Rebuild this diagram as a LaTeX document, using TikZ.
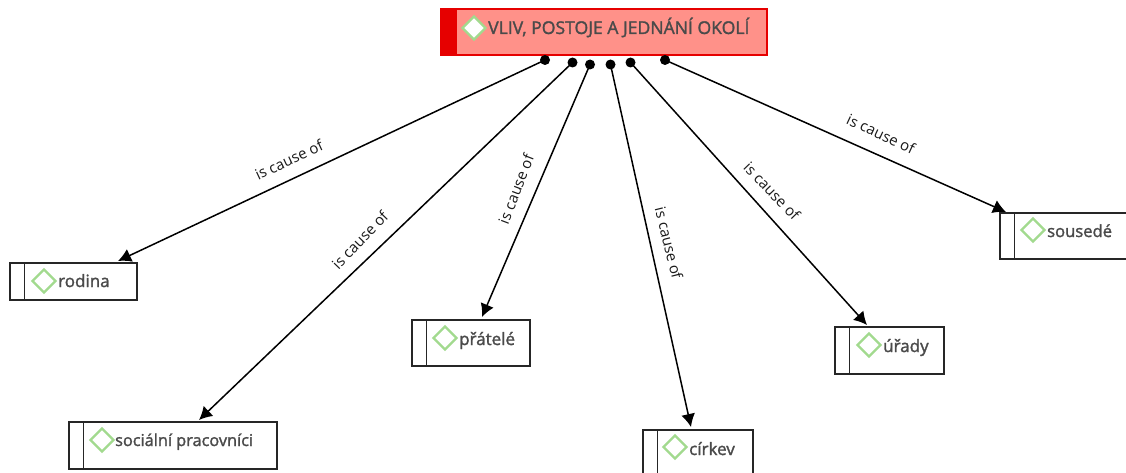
\documentclass[tikz,border=0pt]{standalone}
\usepackage{fontspec}
\setmainfont{Open Sans}
\newfontfamily\semi[FakeBold=1.6]{Open Sans}
\usetikzlibrary{shapes.geometric,arrows.meta}
\definecolor{txt}{HTML}{4A4A4A}
\definecolor{grn}{HTML}{A2DA8E}
\definecolor{headred}{HTML}{E60000}
\definecolor{headfill}{HTML}{FF9189}
\tikzset{
  box/.style={draw=black!85,line width=2pt,fill=white,rectangle,inner sep=0,outer sep=0},
  head/.style={draw=headred,line width=2pt,fill=headfill,rectangle,inner sep=0,outer sep=0},
  gem/.style={diamond,draw=grn,line width=2.3pt,fill=white,inner sep=0,minimum size=24pt},
  lab/.style={font=\semi\fontsize{17}{17}\selectfont,text=txt,anchor=base west,inner sep=0},
  dot/.style={circle,fill=black,inner sep=0,minimum size=10pt},
  link/.style={draw=black,line width=1.5pt,-{Latex[length=13pt,width=14pt]}},
  rel/.style={font=\fontsize{15}{15}\selectfont,text=black!90,inner sep=1pt}
}
\begin{document}
\begin{tikzpicture}[x=1pt,y=-1pt]
\useasboundingbox (0,0) rectangle (1126,473);
\clip (0,0) rectangle (1126,473);
% header
\node[head,minimum width=326pt,minimum height=46pt] (top) at (603.5,32.5) {};
\fill[headred] (top.north west) rectangle ([xshift=16pt]top.south west);
\node[gem] (gtop) at (474,28) {};
\node[lab,font=\semi\fontsize{17.6}{17}\selectfont] (ttop) at (488,34) {VLIV, POSTOJE A JEDNÁNÍ OKOLÍ};
% boxes
\node[box,minimum width=127pt,minimum height=37pt] (rodina) at (73.5,281.5) {};
\node[box,minimum width=208pt,minimum height=47pt] (soc) at (173,445.5) {};
\node[box,minimum width=118pt,minimum height=46pt] (prat) at (471,343) {};
\node[box,minimum width=110pt,minimum height=50pt] (cirk) at (698,455) {};
\node[box,minimum width=109pt,minimum height=47pt] (urad) at (889.5,350.5) {};
\node[box,minimum width=132pt,minimum height=46pt] (sous) at (1066,236) {};
\foreach \n in {rodina,soc,prat,cirk,urad,sous}
  \draw[black!85,line width=1.7pt] ([xshift=14.5pt]\n.north west) -- ([xshift=14.5pt]\n.south west);
% diamonds and texts
\node[gem] (g1) at (44,281) {};
\node[lab] (t1) at (58,287) {rodina};
\node[gem] (g2) at (102,440) {};
\node[lab,font=\semi\fontsize{16.3}{17}\selectfont] (t2) at (115,446) {sociální pracovníci};
\node[gem] (g3) at (445,338) {};
\node[lab] (t3) at (459,345) {přátelé};
\node[gem] (g4) at (675,447) {};
\node[lab] (t4) at (689,455) {církev};
\node[gem] (g5) at (869,345) {};
\node[lab] (t5) at (883,352) {úřady};
\node[gem] (g6) at (1033,230) {};
\node[lab,font=\semi\fontsize{16.6}{17}\selectfont] (t6) at (1047,237) {sousedé};
% dots
\node[dot] (d1) at (545,60) {};
\node[dot] (d2) at (572.5,62.5) {};
\node[dot] (d3) at (590,64.5) {};
\node[dot] (d4) at (610.5,64.5) {};
\node[dot] (d5) at (630.5,62.5) {};
\node[dot] (d6) at (665,60) {};
% arrow ends
\coordinate (e1) at (118,261);
\coordinate (e2) at (199,420);
\coordinate (e3) at (482,317);
\coordinate (e4) at (691,427);
\coordinate (e5) at (867,325);
\coordinate (e6) at (1006,212);
\draw[link] (d1.center) -- (e1);
\draw[link] (d2.center) -- (e2);
\draw[link] (d3.center) -- (e3);
\draw[link] (d4.center) -- (e4);
\draw[link] (d5.center) -- (e5);
\draw[link] (d6.center) -- (e6);
% labels
\node[rel,rotate=25] (r1) at (289,160) {is cause of};
\node[rel,rotate=46] (r2) at (360,240) {is cause of};
\node[rel,rotate=69] (r3) at (516,189) {is cause of};
\node[rel,rotate=-76] (r4) at (669,243) {is cause of};
\node[rel,rotate=-46] (r5) at (772,191) {is cause of};
\node[rel,rotate=-25] (r6) at (881,134) {is cause of};
\end{tikzpicture}
\end{document}
